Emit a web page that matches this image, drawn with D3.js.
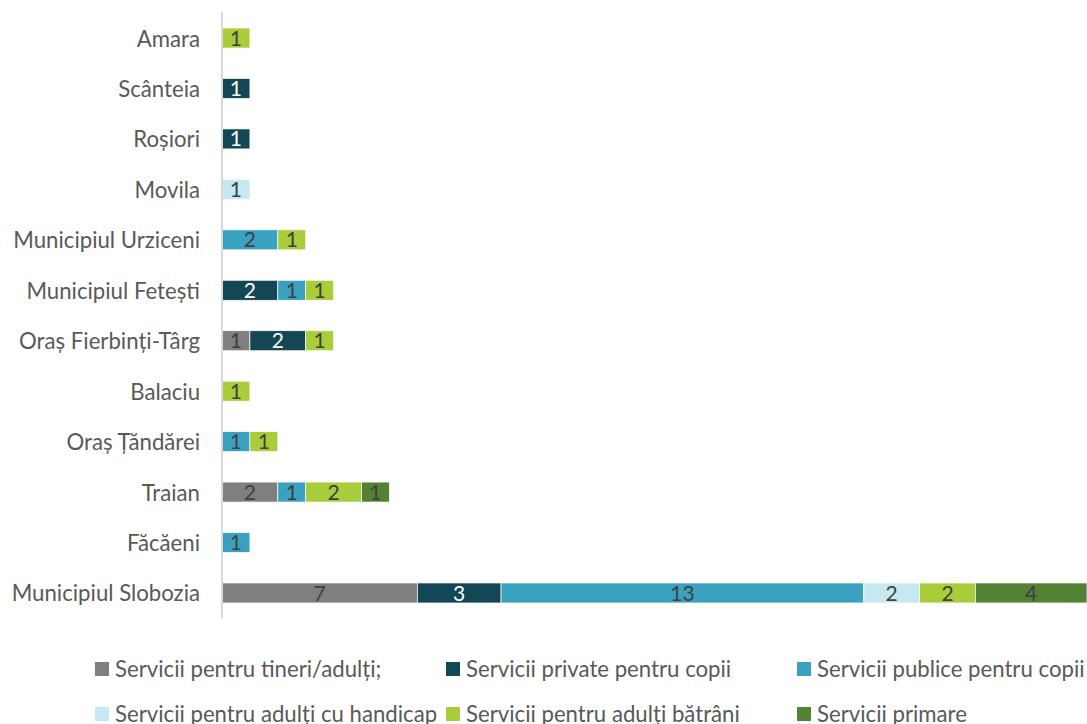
<!DOCTYPE html>
<html><head><meta charset="utf-8">
<script src="https://cdn.jsdelivr.net/npm/d3@7"></script>
<style>body{margin:0;background:#fff;}svg{display:block;}</style>
</head><body>
<svg id="c" width="1087" height="724"></svg>
<script>
const categories = ["Amara","Scânteia","Roșiori","Movila","Municipiul Urziceni","Municipiul Fetești","Oraș Fierbinți-Târg","Balaciu","Oraș Țăndărei","Traian","Făcăeni","Municipiul Slobozia"];
const seriesNames = ["Servicii pentru tineri/adulți;","Servicii private pentru copii","Servicii publice pentru copii","Servicii pentru adulți cu handicap","Servicii pentru adulți bătrâni","Servicii primare"];
const tineri   = [0,0,0,0,0,0,1,0,0,2,0,7];
const private_ = [0,1,1,0,0,2,2,0,0,0,0,3];
const publice  = [0,0,0,0,2,1,0,0,1,1,1,13];
const handicap = [0,0,0,1,0,0,0,0,0,0,0,2];
const batrani  = [1,0,0,0,1,1,1,1,1,2,0,2];
const primare  = [0,0,0,0,0,0,0,0,0,1,0,4];
const colors = ["#7f7f7f","#134755","#3aa1c0","#c5e8f1","#a9cd3a","#548235"];
const labelColors = ["#404040","#ffffff","#404040","#404040","#404040","#404040"];

const seriesValues = [tineri, private_, publice, handicap, batrani, primare];
const rows = categories.map((c,i)=>{const o={cat:c}; seriesNames.forEach((s,j)=>o[s]=seriesValues[j][i]); return o;});
const stack = d3.stack().keys(seriesNames)(rows);

const svg = d3.select("#c");
const font = "Lato, sans-serif";
const x = d3.scaleLinear().domain([0,31]).range([222,1087]);
const y = d3.scalePoint().domain(categories).range([12.8,618.2]).padding(0.5);
const bh = 20;

stack.forEach((layer,j)=>{
  const g = svg.append("g");
  layer.forEach((d,i)=>{
    const v = d[1]-d[0];
    if (!v) return;
    const cy = y(categories[i]);
    g.append("rect").attr("x",x(d[0])).attr("y",cy-bh/2).attr("width",x(d[1])-x(d[0])).attr("height",bh)
      .attr("fill",colors[j]).attr("stroke","#fff").attr("stroke-width",0.7);
    g.append("text").attr("x",(x(d[0])+x(d[1]))/2).attr("y",cy).attr("dy","0.36em")
      .attr("text-anchor","middle").attr("font-family",font).attr("font-size",21)
      .attr("fill",labelColors[j]).text(v);
  });
});

// axis
const yAxis = d3.axisLeft(y).tickSize(0).tickPadding(22);
const ag = svg.append("g").attr("transform","translate(222,0)").call(yAxis);
ag.select(".domain").attr("stroke","#d9d9d9").attr("stroke-width",2).attr("d","M0,12V618");
ag.selectAll("text").attr("font-family",font).attr("font-size",22.2).attr("fill","#595959").attr("dy","0.36em");

// legend
const legendPos = [[95,669],[446,669],[797,669],[95,714],[446,714],[797,714]];
seriesNames.forEach((s,j)=>{
  const [lx,ly] = legendPos[j];
  svg.append("rect").attr("x",lx).attr("y",ly-7).attr("width",14).attr("height",14).attr("fill",colors[j]);
  svg.append("text").attr("x",lx+20).attr("y",ly).attr("dy","0.36em").attr("font-family",font)
    .attr("font-size",22.2).attr("fill","#595959").text(s);
});
</script>
</body></html>
